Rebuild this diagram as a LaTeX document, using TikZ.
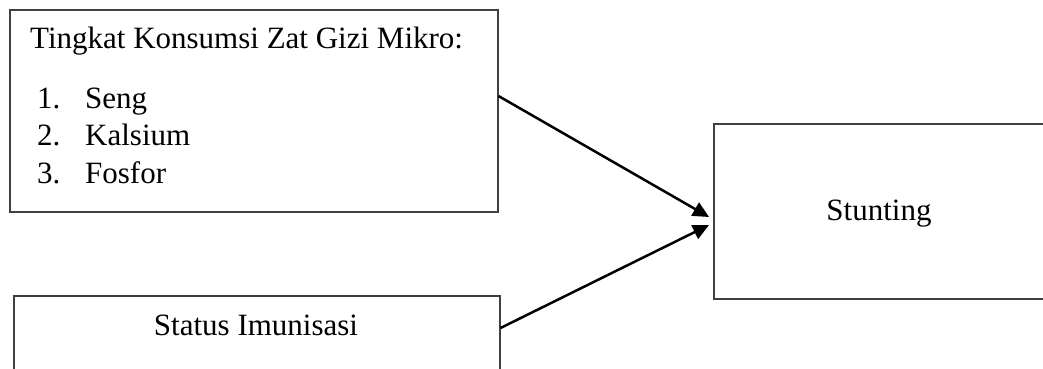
\documentclass[tikz,border=0pt]{standalone}
\usepackage{fontspec}
\setmainfont{Liberation Serif}
\usetikzlibrary{arrows.meta,calc}
\begin{document}
\begin{tikzpicture}[x=1pt,y=-1pt,
  box/.style={draw=black!75,line width=1.5pt,inner sep=0pt,anchor=north west},
  txt/.style={font=\fontsize{31pt}{36pt}\selectfont,inner sep=0pt,anchor=base west},
  arr/.style={line width=2.5pt,-{Triangle[length=16pt,width=15pt]}}]
\useasboundingbox (0,0) rectangle (1043,368);
\begin{scope}
\clip (0,0) rectangle (1043,368);
\node[box,minimum width=488,minimum height=202] (k) at (9,9) {};
\node[box,minimum width=486,minimum height=73.5] (i) at (13,295) {};
\node[box,minimum width=340,minimum height=175] (s) at (713,123) {};
\end{scope}
\node[txt] (t0) at (30,48) {Tingkat Konsumsi Zat Gizi Mikro:};
\node[txt] (n1) at (37,108) {1.};
\node[txt] (t1) at (85,108) {Seng};
\node[txt] (n2) at (37,145.5) {2.};
\node[txt] (t2) at (85,145.5) {Kalsium};
\node[txt] (n3) at (37,183) {3.};
\node[txt] (t3) at (85,183) {Fosfor};
\node[txt,anchor=base] (ti) at (256,335) {Status Imunisasi};
\node[txt,anchor=base] (ts) at (879,220) {Stunting};
\draw[arr] ($(k.north east)+(0,87)$) -- ($(s.north west)+(-4,94)$);
\draw[arr] ($(i.north east)+(0,33)$) -- ($(s.north west)+(-4,102)$);
\end{tikzpicture}
\end{document}
